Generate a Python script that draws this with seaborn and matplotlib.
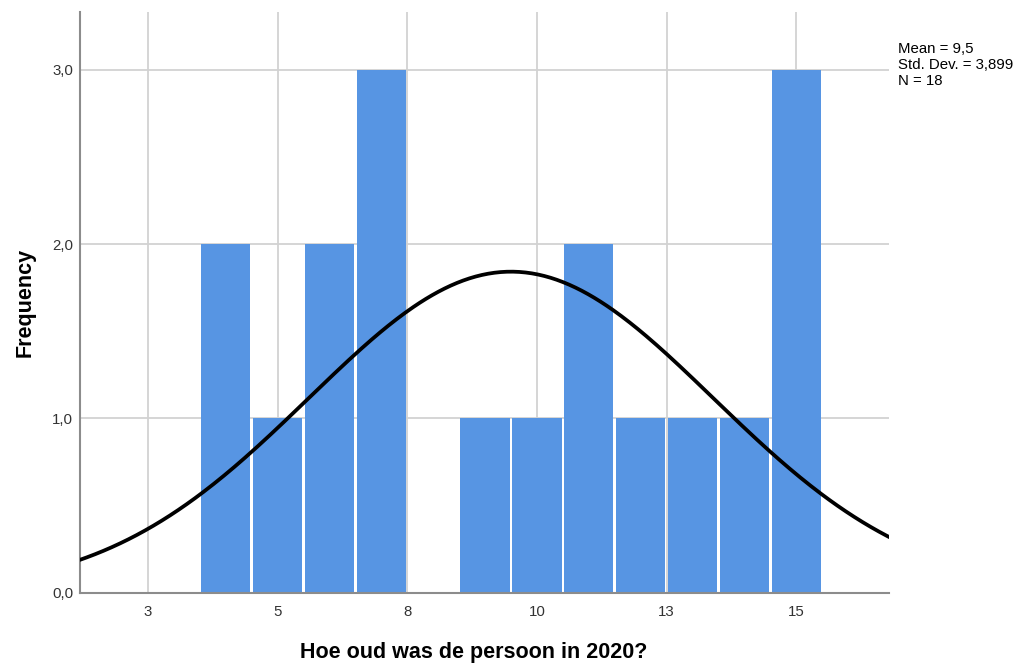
import numpy as np
import pandas as pd
import matplotlib
matplotlib.use("Agg")
import matplotlib.pyplot as plt
import seaborn as sns

# Age in 2020 and how many persons had that age
ages = [4, 5, 6, 7, 8, 9, 10, 11, 12, 13, 14, 15]
counts = [2, 1, 2, 3, 0, 1, 1, 2, 1, 1, 1, 3]

x_tick_values = [2.5, 5.0, 7.5, 10.0, 12.5, 15.0]
x_tick_labels = ["3", "5", "8", "10", "13", "15"]
y_tick_values = [0, 1, 2, 3]
y_tick_labels = ["0,0", "1,0", "2,0", "3,0"]

df = pd.DataFrame({"age": ages, "count": counts})

# Descriptive statistics of the expanded sample
sample = np.repeat(df["age"].to_numpy(), df["count"].to_numpy())
n = sample.size
mean = sample.mean()
sd = sample.std(ddof=1)


def comma(value, digits):
    return f"{value:.{digits}f}".replace(".", ",")


sns.set_theme(style="white")
plt.rcParams["font.family"] = ["Liberation Sans", "DejaVu Sans"]

fig = plt.figure(figsize=(10.17, 6.63), dpi=100)
ax = fig.add_axes([0.0787, 0.1056, 0.7955, 0.8764])

bar_color = "#5795E3"
sns.histplot(data=df, x="age", weights="count", binwidth=1, binrange=(3.5, 15.5),
             shrink=0.95, color=bar_color, alpha=1, linewidth=0, ax=ax, zorder=2)

# Fitted normal curve scaled to the histogram (bin width 1)
xs = np.linspace(1.0, 17.0, 400)
ys = n * 1.0 * np.exp(-0.5 * ((xs - mean) / sd) ** 2) / (sd * np.sqrt(2 * np.pi))
sns.lineplot(x=xs, y=ys, color="black", linewidth=2.7, ax=ax, zorder=3)

ax.set_xlim(1.19, 16.79)
ax.set_ylim(0, 3.33)
ax.set_xticks(x_tick_values)
ax.set_xticklabels(x_tick_labels)
ax.set_yticks(y_tick_values)
ax.set_yticklabels(y_tick_labels)
ax.tick_params(axis="both", length=0, labelsize=10.8, labelcolor="#333333")
ax.tick_params(axis="x", pad=9)
ax.tick_params(axis="y", pad=5)

ax.grid(True, color="#D2D2D2", linewidth=1.3, zorder=0)
ax.set_axisbelow(True)
for side in ["top", "right"]:
    ax.spines[side].set_visible(False)
for side in ["left", "bottom"]:
    ax.spines[side].set_color("#8C8C8C")
    ax.spines[side].set_linewidth(1.5)

ax.set_xlabel("Hoe oud was de persoon in 2020?", fontsize=15.5, fontweight="bold",
              color="black", labelpad=16)
ax.xaxis.label.set_x(0.487)
ax.set_ylabel("Frequency", fontsize=15.5, fontweight="bold", color="black", labelpad=12)

stats_text = (f"Mean = {comma(mean, 1)}\n"
              f"Std. Dev. = {comma(sd, 3)}\n"
              f"N = {n}")
fig.text(0.883, 0.937, stats_text, fontsize=10.8, color="black",
         ha="left", va="top", linespacing=1.2)

fig.savefig("out.png", dpi=100)
